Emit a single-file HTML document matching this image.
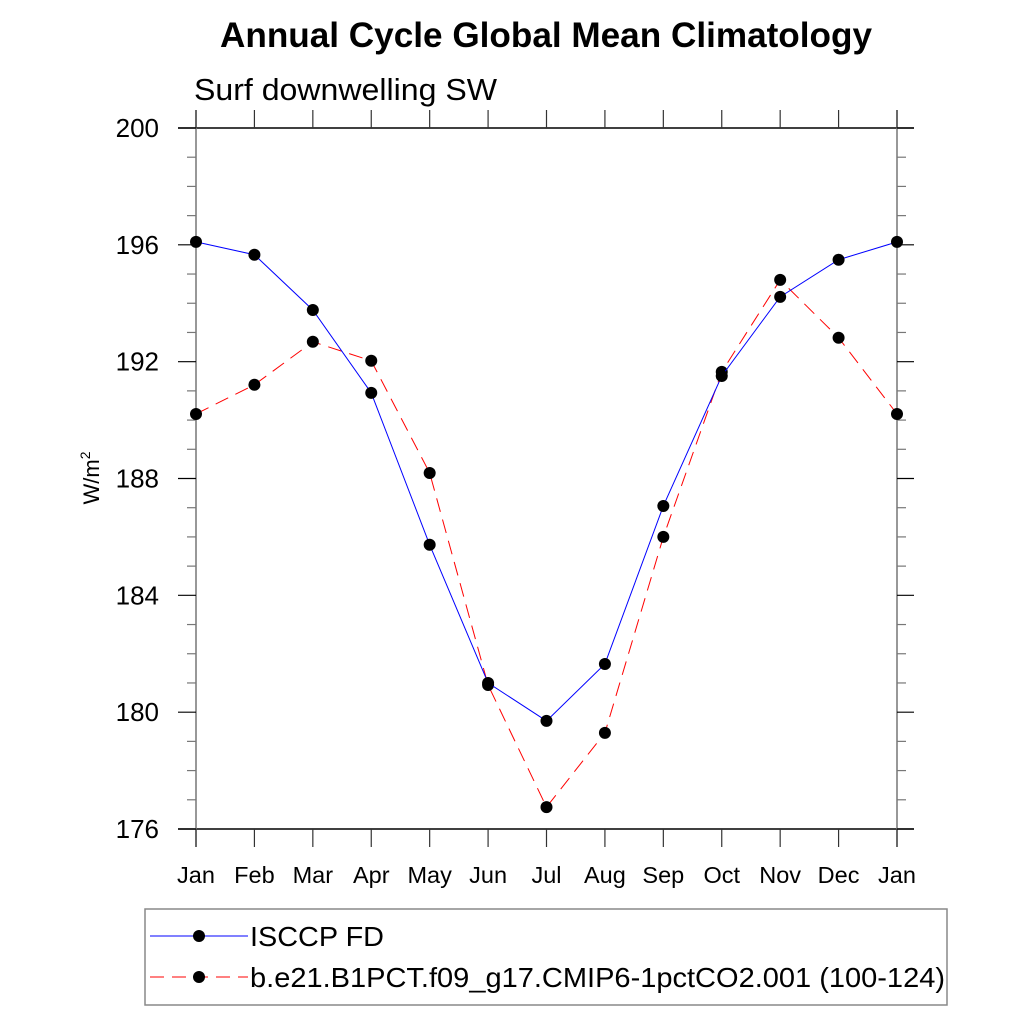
<!DOCTYPE html>
<html><head><meta charset="utf-8"><style>body{margin:0;background:#fff}svg{display:block}</style></head><body>
<svg id="c" width="1024" height="1024" xmlns="http://www.w3.org/2000/svg" font-family="Liberation Sans, sans-serif">
<text x="220" y="47" font-size="35" font-weight="bold" textLength="652" lengthAdjust="spacingAndGlyphs">Annual Cycle Global Mean Climatology</text>
<text x="194" y="100" font-size="31" textLength="303" lengthAdjust="spacingAndGlyphs">Surf downwelling SW</text>
<text transform="translate(99,478) rotate(-90)" text-anchor="middle" font-size="22">W/m<tspan dy="-9" font-size="14">2</tspan></text>
<g id="axes"></g><g id="series"></g>
<g>
<rect x="145" y="909" width="802" height="96" fill="none" stroke="#888" stroke-width="1.5"/>
<g>
<line x1="150" y1="936" x2="248" y2="936" stroke="#0000ff" stroke-width="1"/><circle cx="199" cy="936" r="6" fill="#000"/>
<text x="250" y="946" font-size="28" textLength="134" lengthAdjust="spacingAndGlyphs">ISCCP FD</text></g>
<g>
<line x1="150" y1="977" x2="248" y2="977" stroke="#ff0000" stroke-width="1" stroke-dasharray="14,8"/><circle cx="199" cy="977" r="6" fill="#000"/>
<text x="250" y="987" font-size="28" textLength="695" lengthAdjust="spacingAndGlyphs">b.e21.B1PCT.f09_g17.CMIP6-1pctCO2.001 (100-124)</text></g>
</g>
</svg>
<script>
const months=["Jan","Feb","Mar","Apr","May","Jun","Jul","Aug","Sep","Oct","Nov","Dec","Jan"];
const obsValues=[196.1,195.66,193.77,190.93,185.73,181.0,179.7,181.65,187.06,191.51,194.22,195.49,196.1];
const modelValues=[190.21,191.21,192.68,192.03,188.19,180.93,176.75,179.29,186.0,191.65,194.8,192.82,190.21];
const yTicks=[176,180,184,188,192,196,200];
const NS="http://www.w3.org/2000/svg";
const x0=196,x1=897,yTop=128,yBot=829,yMin=176,yMax=200;
const xs=i=>x0+(x1-x0)*i/(months.length-1);
const ys=v=>yBot-(v-yMin)/(yMax-yMin)*(yBot-yTop);
function mk(t,a,p){const e=document.createElementNS(NS,t);for(const k in a)e.setAttribute(k,a[k]);p.appendChild(e);return e;}
const ax=document.getElementById('axes');
let e;
e=mk('line',{x1:178,y1:yTop,x2:914,y2:yTop,stroke:'#000','stroke-width':1.5},ax);


e=mk('line',{x1:178,y1:yBot,x2:914,y2:yBot,stroke:'#000','stroke-width':1.5},ax);


e=mk('line',{x1:x0,y1:110,x2:x0,y2:847,stroke:'#777','stroke-width':1.5},ax);


e=mk('line',{x1:x1,y1:110,x2:x1,y2:847,stroke:'#777','stroke-width':1.5},ax);


months.forEach((m,i)=>{const x=xs(i);
mk('line',{x1:x,y1:yTop,x2:x,y2:110,stroke:'#333','stroke-width':1.2},ax);
mk('line',{x1:x,y1:yBot,x2:x,y2:847,stroke:'#333','stroke-width':1.2},ax);
const t=mk('text',{x:x,y:883,'text-anchor':'middle','font-size':23.5},ax);t.textContent=m;

});
for(let v=yMin;v<=yMax;v++){const y=ys(v);const maj=yTicks.includes(v);
mk('line',{x1:x0,y1:y,x2:maj?178:187,y2:y,stroke:maj?'#000':'#777','stroke-width':1.2},ax);
mk('line',{x1:x1,y1:y,x2:maj?914:906,y2:y,stroke:maj?'#000':'#777','stroke-width':1.2},ax);}
yTicks.forEach(v=>{const t=mk('text',{x:159,y:ys(v)+9,'text-anchor':'end','font-size':26},ax);t.textContent=v;

});
const sg=document.getElementById('series');
function series(vals,color,dash,name){
const g=mk('g',{},sg);


const p=mk('polyline',{points:vals.map((v,i)=>xs(i)+','+ys(v)).join(' '),fill:'none',stroke:color,'stroke-width':1,'stroke-dasharray':dash},g);


vals.forEach((v,i)=>{const c=mk('circle',{cx:xs(i),cy:ys(v),r:6,fill:'#000'},g);

});}
series(modelValues,'#ff0000','14,8','model-series');
series(obsValues,'#0000ff','none','isccp-series');
</script>
</body></html>
